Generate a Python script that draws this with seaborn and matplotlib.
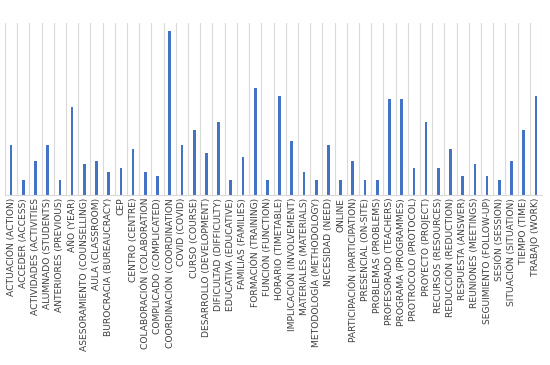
import matplotlib
matplotlib.use("Agg")
import matplotlib.pyplot as plt
import seaborn as sns
import numpy as np
import pandas as pd

categories = [
    "ACTUACIÓN (ACTION)", "ACCEDER (ACCESS)", "ACTIVIDADES (ACTIVITIES",
    "ALUMNADO (STUDENTS)", "ANTERIORES (PREVIOUS)", "AÑO (YEAR)",
    "ASESORAMIENTO (COUNSELLING)", "AULA (CLASSROOM)", "BUROCRACIA (BUREAUCRACY)",
    "CEP", "CENTRO (CENTRE)", "COLABORACIÓN (COLABORATION",
    "COMPLICADO (COMPLICATED)", "COORDINACIÓN (COORDINATION", "COVID (COVID)",
    "CURSO (COURSE)", "DESARROLLO (DEVELOPMENT)", "DIFICULTAD (DIFFICULTY)",
    "EDUCATIVA (EDUCATIVE)", "FAMILIAS (FAMILIES)", "FORMACIÓN (TRAINING)",
    "FUNCIÓN (FUNCTION)", "HORARIO (TIMETABLE)", "IMPLICACIÓN (INVOLVEMENT)",
    "MATERIALES (MATERIALS)", "METODOLOGÍA (METHODOLOGY)", "NECESIDAD (NEED)",
    "ONLINE", "PARTICIPACIÓN (PARTICIPATION)", "PRESENCIAL (ON-SITE)",
    "PROBLEMAS (PROBLEMS)", "PROFESORADO (TEACHERS)", "PROGRAMA (PROGRAMMES)",
    "PROTROCOLO (PROTOCOL)", "PROYECTO (PROJECT)", "RECURSOS (RESOURCES)",
    "REDUCCIÓN (REDUCTION)", "RESPUESTA (ANSWER)", "REUNIONES (MEETINGS)",
    "SEGUIMIENTO (FOLLOW-UP)", "SESIÓN (SESSION)", "SITUACIÓN (SITUATION)",
    "TIEMPO (TIME)", "TRABAJO (WORK)",
]
values = [
    13, 4, 9, 13, 4, 23, 8, 9, 6, 7, 12, 6, 5, 43, 13, 17, 11, 19, 4, 10, 28, 4,
    26, 14, 6, 4, 13, 4, 9, 4, 4, 25, 25, 7, 19, 7, 12, 5, 8, 5, 4, 9, 17, 26,
]

df = pd.DataFrame({"category": categories, "value": values})

sns.set_theme(style="white")
plt.rcParams["font.family"] = ["DejaVu Sans"]

fig = plt.figure(figsize=(5.5, 3.65), dpi=100)
ax = fig.add_axes([5 / 550, 170 / 365, 537 / 550, 172 / 365])

sns.barplot(data=df, x="category", y="value", color="#4472C4", width=0.22,
            saturation=1, linewidth=0, ax=ax)

n = len(categories)
ax.set_xlim(-0.5, n - 0.5)
ax.set_ylim(0, 45)
ax.set_xticks(np.arange(-0.5, n, 1), minor=True)
ax.grid(which="minor", axis="x", color="#D9D9D9", linewidth=0.8)
ax.grid(which="major", visible=False)
ax.set_axisbelow(True)
ax.set_yticks([])
ax.set_xlabel("")
ax.set_ylabel("")
for s in ["top", "left", "right"]:
    ax.spines[s].set_visible(False)
ax.spines["bottom"].set_color("#D9D9D9")
ax.spines["bottom"].set_linewidth(0.8)
ax.tick_params(axis="x", which="both", length=0, pad=2)
ax.set_xticks(range(n))
ax.set_xticklabels(categories, rotation=90, fontsize=6.6, color="#404040",
                   ha="center", va="top")

fig.savefig("out.png", dpi=100)
